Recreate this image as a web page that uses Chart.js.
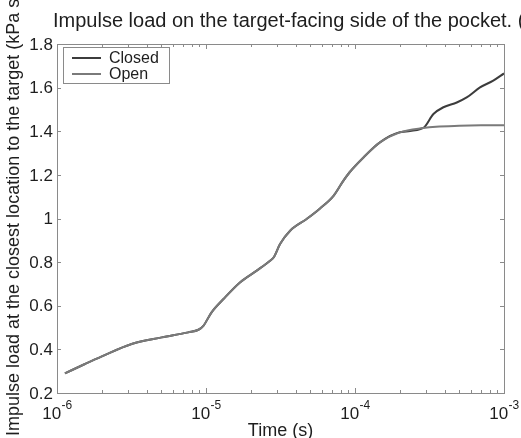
<!DOCTYPE html>
<html>
<head>
<meta charset="utf-8">
<script src="https://cdn.jsdelivr.net/npm/chart.js@4/dist/chart.umd.min.js"></script>
<style>
html,body{margin:0;padding:0;background:#fff;}
#wrap{width:521px;height:438px;position:relative;}
</style>
</head>
<body>
<div id="wrap"><canvas id="c" width="521" height="438"></canvas></div>
<script>
// ---- data ----
const titleText = "Impulse load on the target-facing side of the pocket. (";
const xAxisTitle = "Time (s)";
const yAxisTitle = "Impulse load at the closest location to the target (kPa s)";
const seriesNames = ["Closed", "Open"];

const closedTime = [1.13e-6, 1.54e-6, 2.0e-6, 3.17e-6, 5.05e-6, 7.6e-6, 8.9e-6, 9.6e-6, 1.09e-5, 1.31e-5, 1.69e-5, 2.19e-5, 2.69e-5, 2.85e-5, 3.14e-5, 3.67e-5, 4.74e-5, 5.8e-5, 7.2e-5, 8.3e-5, 9.2e-5, 1.14e-4, 1.47e-4, 2.0e-4, 2.87e-4, 3.36e-4, 3.92e-4, 4.82e-4, 5.62e-4, 6.9e-4, 8.47e-4, 1.0e-3];
const closedValue = [0.29, 0.333, 0.368, 0.425, 0.455, 0.478, 0.49, 0.508, 0.57, 0.631, 0.707, 0.761, 0.806, 0.822, 0.883, 0.944, 0.998, 1.045, 1.105, 1.17, 1.212, 1.28, 1.349, 1.395, 1.415, 1.479, 1.51, 1.532, 1.555, 1.601, 1.632, 1.665];

const openTime = [1.13e-6, 1.54e-6, 2.0e-6, 3.17e-6, 5.05e-6, 7.6e-6, 8.9e-6, 9.6e-6, 1.09e-5, 1.31e-5, 1.69e-5, 2.19e-5, 2.69e-5, 2.85e-5, 3.14e-5, 3.67e-5, 4.74e-5, 5.8e-5, 7.2e-5, 8.3e-5, 9.2e-5, 1.14e-4, 1.47e-4, 2.0e-4, 2.87e-4, 3.5e-4, 5.0e-4, 7.0e-4, 1.0e-3];
const openValue = [0.29, 0.333, 0.368, 0.425, 0.455, 0.478, 0.49, 0.508, 0.57, 0.631, 0.707, 0.761, 0.806, 0.822, 0.883, 0.944, 0.998, 1.045, 1.105, 1.17, 1.212, 1.28, 1.349, 1.395, 1.415, 1.421, 1.425, 1.427, 1.428];

const xTickValues = [1e-6, 1e-5, 1e-4, 1e-3];
const xTickExponents = ["-6", "-5", "-4", "-3"];
const yTickValues = [0.2, 0.4, 0.6, 0.8, 1.0, 1.2, 1.4, 1.6, 1.8];
const yTickLabels = ["0.2", "0.4", "0.6", "0.8", "1", "1.2", "1.4", "1.6", "1.8"];

const toXY = (ts, vs) => ts.map((t, i) => ({x: t, y: vs[i]}));

const FONT = "'Liberation Sans', Arial, sans-serif";
const axisColor = "#8a8a8a";
const textColor = "#1e1e1e";
const lineColors = ["#3c3c3c", "#7a7a7a"];

const decorPlugin = {
  id: 'decor',
  beforeDatasetsDraw(chart) {
    const ctx = chart.ctx, a = chart.chartArea;
    const xs = chart.scales.x, ys = chart.scales.y;
    ctx.save();
    ctx.strokeStyle = axisColor;
    ctx.lineWidth = 1;
    ctx.strokeRect(Math.round(a.left) + 0.5, Math.round(a.top) + 0.5, Math.round(a.right - a.left), Math.round(a.bottom - a.top));
    ctx.beginPath();
    for (let d = -6; d < -3; d++) {
      for (let m = 1; m <= 9; m++) {
        const v = m * Math.pow(10, d);
        const px = Math.round(xs.getPixelForValue(v)) + 0.5;
        const len = m === 1 ? 5 : 3;
        ctx.moveTo(px, a.bottom); ctx.lineTo(px, a.bottom - len);
        ctx.moveTo(px, a.top); ctx.lineTo(px, a.top + len);
      }
    }
    yTickValues.forEach(v => {
      const py = Math.round(ys.getPixelForValue(v)) + 0.5;
      ctx.moveTo(a.left, py); ctx.lineTo(a.left + 4, py);
      ctx.moveTo(a.right, py); ctx.lineTo(a.right - 4, py);
    });
    ctx.stroke();
    ctx.restore();
  },
  afterDraw(chart) {
    const ctx = chart.ctx, a = chart.chartArea;
    const xs = chart.scales.x, ys = chart.scales.y;
    ctx.save();
    ctx.fillStyle = textColor;
    // title
    ctx.font = "20px " + FONT;
    ctx.textAlign = "left";
    ctx.textBaseline = "alphabetic";
    ctx.fillText(titleText, 53, 27);
    // y tick labels
    ctx.font = "17px " + FONT;
    ctx.textAlign = "right";
    ctx.textBaseline = "middle";
    yTickValues.forEach((v, i) => {
      ctx.fillText(yTickLabels[i], a.left - 4, ys.getPixelForValue(v) + 1);
    });
    // x tick labels with superscript
    xTickValues.forEach((v, i) => {
      const px = xs.getPixelForValue(v);
      ctx.font = "17px " + FONT;
      const w1 = ctx.measureText("10").width;
      ctx.font = "12px " + FONT;
      const w2 = ctx.measureText(xTickExponents[i]).width;
      const x0 = px - (w1 + w2) / 2;
      ctx.textAlign = "left";
      ctx.textBaseline = "alphabetic";
      ctx.font = "17px " + FONT;
      ctx.fillText("10", x0, 419);
      ctx.font = "12px " + FONT;
      ctx.fillText(xTickExponents[i], x0 + w1 + 0.5, 409);
    });
    // x axis title
    ctx.font = "18px " + FONT;
    ctx.textAlign = "center";
    ctx.textBaseline = "alphabetic";
    ctx.fillText(xAxisTitle, (a.left + a.right) / 2, 436);
    // y axis title (rotated, anchored at bottom)
    ctx.save();
    ctx.translate(19, 436);
    ctx.rotate(-Math.PI / 2);
    ctx.textAlign = "left";
    ctx.textBaseline = "alphabetic";
    ctx.font = "18px " + FONT;
    ctx.fillText(yAxisTitle, 0, 0);
    ctx.restore();
    // legend
    const lx = 63, ly = 47, lw = 106, lh = 36;
    ctx.fillStyle = "#fff";
    ctx.fillRect(lx, ly, lw, lh);
    ctx.strokeStyle = axisColor;
    ctx.lineWidth = 1;
    ctx.strokeRect(lx + 0.5, ly + 0.5, lw, lh);
    ctx.font = "16px " + FONT;
    ctx.textAlign = "left";
    ctx.textBaseline = "middle";
    seriesNames.forEach((n, i) => {
      const yy = 58 + i * 16;
      ctx.strokeStyle = lineColors[i];
      ctx.lineWidth = 2;
      ctx.beginPath();
      ctx.moveTo(72, yy); ctx.lineTo(101, yy);
      ctx.stroke();
      ctx.fillStyle = textColor;
      ctx.fillText(n, 109, yy + 1);
    });
    ctx.restore();
  }
};

new Chart(document.getElementById('c'), {
  type: 'line',
  data: {
    datasets: [
      {label: seriesNames[0], order: 1, data: toXY(closedTime, closedValue), borderColor: lineColors[0], borderWidth: 2, pointRadius: 0, cubicInterpolationMode: 'monotone', fill: false},
      {label: seriesNames[1], order: 0, data: toXY(openTime, openValue), borderColor: lineColors[1], borderWidth: 2, pointRadius: 0, cubicInterpolationMode: 'monotone', fill: false}
    ]
  },
  options: {
    responsive: false,
    animation: false,
    devicePixelRatio: 1,
    layout: {padding: {top: 44, right: 17, left: 0, bottom: 0}},
    plugins: {legend: {display: false}, title: {display: false}, tooltip: {enabled: false}},
    scales: {
      x: {
        type: 'logarithmic', min: 1e-6, max: 1e-3,
        grid: {display: false}, border: {display: false},
        ticks: {display: false},
        afterFit: s => { s.height = 45; }
      },
      y: {
        type: 'linear', min: 0.2, max: 1.8,
        grid: {display: false}, border: {display: false},
        ticks: {display: false},
        afterFit: s => { s.width = 57; }
      }
    }
  },
  plugins: [decorPlugin]
});
</script>
</body>
</html>
